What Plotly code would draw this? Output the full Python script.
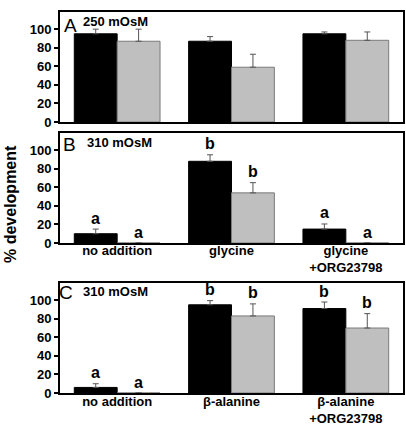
import plotly.graph_objects as go

# ---------------- data ----------------
cats_B = ["no addition", "glycine", "glycine<br>+ORG23798"]
cats_C = ["no addition", "β-alanine", "β-alanine<br>+ORG23798"]
x_idx = [0, 1, 2]

A_black = [95, 87, 95]
A_black_err = [5, 5, 2]
A_gray = [87, 59, 88]
A_gray_err = [13, 14, 9]

B_black = [10, 88, 15]
B_black_err = [5, 7, 5.5]
B_gray = [0, 54, 0]
B_gray_err = [0, 11, 0]

C_black = [6, 95, 91]
C_black_err = [4, 4.5, 7]
C_gray = [0, 83, 70]
C_gray_err = [0, 13, 15.5]

B_black_sig = ["a", "b", "a"]
B_gray_sig = ["a", "b", "a"]
C_black_sig = ["a", "b", "b"]
C_gray_sig = ["a", "b", "b"]

panel_letters = ["A", "B", "C"]
panel_titles = ["250 mOsM", "310 mOsM", "310 mOsM"]
y_ticks = [0, 20, 40, 60, 80, 100]

# ---------------- style ----------------
W, H = 406, 425
FONT = "Liberation Sans, Arial, sans-serif"
BLACK = "#000000"
GRAY = "#bfbfbf"
GRAY_EDGE = "#7a7a7a"
ERR_COL = "#555555"
BARGAP = 0.25
half = (1 - BARGAP) / 4  # offset of each bar centre from category centre

x_dom = [60 / W, 403 / W]
panels_px = [(12, 122), (133, 243), (283, 393)]
y_doms = [[1 - b / H, 1 - t / H] for t, b in panels_px]
label_standoff = [0, -6, -5]

fig = go.Figure()

data_sets = [
    (A_black, A_black_err, A_gray, A_gray_err),
    (B_black, B_black_err, B_gray, B_gray_err),
    (C_black, C_black_err, C_gray, C_gray_err),
]

def err(arr):
    return dict(type="data", symmetric=False, array=[e if e else None for e in arr],
                arrayminus=[0] * len(arr), color=ERR_COL, thickness=1, width=3, visible=True)

for i, (bv, be, gv, ge) in enumerate(data_sets):
    xa = "x" if i == 0 else f"x{i+1}"
    ya = "y" if i == 0 else f"y{i+1}"
    fig.add_trace(go.Bar(x=x_idx, y=bv, marker=dict(color=BLACK, line=dict(color=BLACK, width=1)),
                         error_y=err(be), xaxis=xa, yaxis=ya, offsetgroup="black", showlegend=False))
    fig.add_trace(go.Bar(x=x_idx, y=gv, marker=dict(color=GRAY, line=dict(color=GRAY_EDGE, width=1)),
                         error_y=err(ge), xaxis=xa, yaxis=ya, offsetgroup="gray", showlegend=False))

tickfont = dict(family=FONT, size=13, color="black", weight="bold")
layout = dict(
    width=W, height=H, margin=dict(l=0, r=0, t=0, b=0, autoexpand=False),
    paper_bgcolor="white", plot_bgcolor="white",
    barmode="group", bargap=BARGAP, bargroupgap=0,
    font=dict(family=FONT, color="black"),
)
for i in range(3):
    sx = "" if i == 0 else str(i + 1)
    cats = [None, cats_B, cats_C][i]
    layout["xaxis" + sx] = dict(
        domain=x_dom, anchor="y" + sx, range=[-0.5, 2.5], automargin=False,
        showline=True, mirror=True, linecolor="black", linewidth=2,
        showgrid=False, zeroline=False, ticks="",
        tickvals=x_idx if cats else [], ticktext=cats if cats else [],
        showticklabels=bool(cats), ticklabelstandoff=label_standoff[i],
        tickfont=dict(family=FONT, size=13, color="black", weight="bold"),
    )
    layout["yaxis" + sx] = dict(
        domain=y_doms[i], anchor="x" + sx, range=[0, 118.5], automargin=False,
        showline=True, mirror=True, linecolor="black", linewidth=2,
        showgrid=False, zeroline=False, ticks="outside", ticklen=4, tickwidth=1.5,
        tickcolor="black", tickvals=y_ticks, tickfont=tickfont,
    )
fig.update_layout(**layout)

annotations = []
# significance letters
for i, (bv, be, gv, ge, bs, gs) in enumerate([
    (B_black, B_black_err, B_gray, B_gray_err, B_black_sig, B_gray_sig),
    (C_black, C_black_err, C_gray, C_gray_err, C_black_sig, C_gray_sig),
]):
    sx = str(i + 2)
    for k in range(3):
        for vals, errs, sig, off in ((bv, be, bs, -half), (gv, ge, gs, half)):
            annotations.append(dict(
                x=x_idx[k] + off, y=vals[k] + errs[k], xref="x" + sx, yref="y" + sx,
                text=sig[k], showarrow=False, yanchor="middle", yshift=11,
                font=dict(family=FONT, size=16, color="black", weight="bold")))

# panel labels
letter_pos = [(70.5, 25), (69.5, 144), (66, 292)]
title_pos = [(83, 22), (86.5, 143), (83, 291)]
for i in range(3):
    lx, ly = letter_pos[i]
    tx, ty = title_pos[i]
    annotations.append(dict(x=lx / W, y=1 - ly / H, xref="paper", yref="paper",
                            text=panel_letters[i], showarrow=False, xanchor="center", yanchor="middle",
                            font=dict(family=FONT, size=19, color="black")))
    annotations.append(dict(x=tx / W, y=1 - ty / H, xref="paper", yref="paper",
                            text=panel_titles[i], showarrow=False, xanchor="left", yanchor="middle",
                            xshift=-2, font=dict(family=FONT, size=13, color="black", weight="bold")))

annotations.append(dict(x=10 / W, y=1 - 204 / H, xref="paper", yref="paper",
                        text="% development", textangle=-90, showarrow=False,
                        xanchor="center", yanchor="middle",
                        font=dict(family=FONT, size=16, color="black", weight="bold")))
fig.update_layout(annotations=annotations)

# remove the default page margin so the figure fills the window exactly
fig.write_html("out.html", config={"displayModeBar": False},
               post_script="document.body.style.margin='0';document.body.style.overflow='hidden';")
